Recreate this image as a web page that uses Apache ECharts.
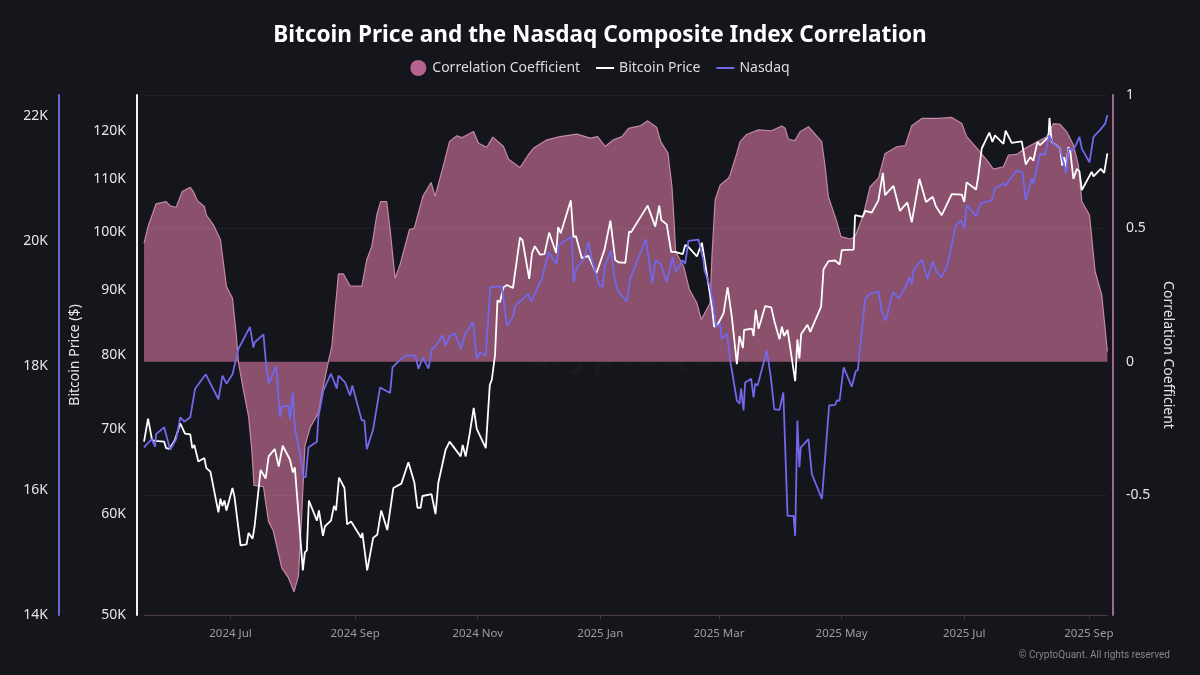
<!DOCTYPE html>
<html>
<head>
<meta charset="utf-8">
<style>html,body{margin:0;padding:0;background:#15151c}#chart{width:1200px;height:675px}</style>
<script src="https://cdn.jsdelivr.net/npm/echarts@6/dist/echarts.min.js"></script>
</head>
<body>
<div id="chart"></div>
<script>
const xTickDays = [43, 105, 166, 227, 286, 347, 408, 470];
const xTickLabels = ['2024 Jul', '2024 Sep', '2024 Nov', '2025 Jan', '2025 Mar', '2025 May', '2025 Jul', '2025 Sep'];
const btcTicks = [50, 60, 70, 80, 90, 100, 110, 120];
const nasdaqTicks = [14, 16, 18, 20, 22];
const corrTicks = [-0.5, 0, 0.5, 1];

const btcDays = [0,2,4,5.5,10,11,12.6,15.4,18,20.4,23,24,25,27,30,31,33,37,38,39,40,41,44,45,48,51,52,54,55,58,60.5,62,65,67,69,72.6,74,75,77,79,80,81,82,86,87,89,90,93,94.5,95.5,97,99.7,101,103,108,108.6,111,114,116,118,121,124,128,131.5,134.5,136,137.6,138.5,143,145,146.4,150,152,157.5,158.5,160,162,164,165.5,170,172,173,174.6,175.8,177,178.8,180.5,183.5,187,188.3,191.6,193,194.4,197,199.2,201.5,205,206,207.3,212.3,213.6,214.8,217.8,221,225,229,232,234.4,236,239.4,241.3,242.3,250.5,254.3,256.3,257.3,260,262.2,264.2,268,269.2,270.4,275,277.5,282.5,283.6,285.3,288.3,290.3,292.4,294.9,296.2,297.9,298.5,302.4,303.2,304.3,305.7,309,312,313.6,316.1,317.3,318.4,320.1,323.9,325,326,326.9,330,331.4,336.8,338,340.5,343.8,346,347.1,353,353.7,357.5,358.7,362,365.3,367.5,368.6,372.8,376,379.7,381.9,385.7,389,392.3,394,396.8,401.8,406.8,408,409.2,413.9,415,416.7,420.5,422,423.3,427.5,428.6,431.6,436.6,438.6,440.8,442.4,444.4,445.7,449.9,450.4,451.5,455.7,456.7,457.7,458.7,459.8,460.7,462.3,464,465.3,466.5,471.4,472.3,475.9,477.6,479.2];
const btcPrice = [68.4,71.3,68.6,68.5,68.4,67.6,67.5,68.6,70.7,69.4,69.3,67.6,68,66,66.4,65.2,64.8,60.2,61.7,60.9,61.5,60.4,62.9,61.9,56.7,56.8,58,57.4,58.7,65,64,66.6,67.5,65.4,67.9,66.2,64.7,65.3,59.6,54.2,56,56.2,61.5,59.3,60.4,57.7,58.7,59.3,60.9,60.4,64.1,62.9,58.9,59.2,57.5,58,54.2,57.5,57.8,60.4,58.3,62.9,63.4,65.9,63.5,60.7,60.7,62,62.2,60,63.5,67.4,68.4,66.6,68,66.6,69.4,72.7,70,67.6,75.8,76.5,80,88.3,88,90.4,90.8,90.3,98.9,98.4,91.8,96.2,97.4,95.9,96,99.8,96.2,100.8,99.7,105.8,99,99.2,95.3,95.7,92.7,96.7,102,95,94.6,94.5,100,99.9,104.8,100.9,104.8,102.1,101.3,96.4,96.4,96,97.6,97.4,95.6,98,87.3,84.2,84.5,86.3,90.4,85.7,78.7,82.8,81,83.7,83.9,82.8,86.8,83.9,87.4,87.2,85,82.3,84.2,82.8,83.7,76.3,82.3,79.5,83.1,84.5,83.4,87.3,93.4,94.8,94.9,94.2,96.7,96.8,103,102.7,103.8,103.5,105.8,111.2,106.8,108.6,103.8,105.4,101.7,110,105.5,106.5,104.6,103,107,106.9,105.5,109.3,107.9,110.6,116.2,119.6,117.6,119,117.2,120,117.4,117.7,112.9,114.4,113.7,117.6,116.9,118.6,122.8,117.6,116.2,112.7,114.4,112.4,116.5,115.8,110,112,111.5,107.8,111.4,110.5,112,111.2,115.2];

const nasdaqDays = [0,3.8,5.5,6,10,13,16,18,20,23,25.4,30.7,37,39,41,44,47,52.7,54.4,55,59.4,60.7,62,65.7,67.7,68.5,71.8,72.6,74,75,77.6,79.3,80.4,81.8,86,86.7,89.2,93,95.9,96.7,100,102.5,103.6,108.3,109.6,110.8,114,117.4,122.4,123.6,127,130,135,136.5,138.7,141.5,143.2,144.8,148.6,149.8,152.3,154.8,157.6,159.7,163.6,165.5,167.2,170,172.2,178,180.5,183.5,184.6,191.2,192.6,197.9,201.2,205.3,206.2,212.8,213.6,215.3,218.6,221.1,222.8,226.4,228,229.4,232.2,234.4,236,240.2,241.8,249.6,252.9,254.3,257,260,262.9,264.5,268,269.2,270.8,275.8,278.3,278.8,281.6,283,284.6,286.6,287.4,290,291.6,294.9,296.2,297,298.2,299,302,303.2,304,305.2,309.8,311.8,313.5,316.1,318,320.1,323.1,323.9,325,326,326.7,330.5,332.2,337.2,340.8,343.8,344.6,346,348,352.1,354,355.1,358.7,361,365.3,367,369,372.5,375.5,379,380.7,381.9,382.7,386.9,389.7,392.3,394.3,396.8,399.6,403.8,406.4,408,409.2,413.9,416.2,421.7,423.3,427.5,428.6,434.1,437.1,438.6,441.6,442.4,445.7,448.2,450.2,452.4,455.7,458.7,459.8,462.3,465.3,466.5,470.3,472.3,475.6,478.1,479.2];
const nasdaqValue = [16.69,16.82,16.7,16.9,17.01,16.65,16.82,17.17,17.1,17.17,17.63,17.86,17.46,17.84,17.71,17.86,18.27,18.62,18.29,18.37,18.5,18.03,17.71,17.99,17.17,17.34,17.36,17.14,17.57,17.01,16.58,16.21,16.21,16.69,16.78,17.17,17.6,17.87,17.63,17.84,17.73,17.52,17.68,17.12,17.12,16.66,16.98,17.65,17.56,17.97,18.08,18.16,18.16,17.95,18.13,17.95,18.27,18.3,18.49,18.32,18.48,18.51,18.27,18.51,18.7,18.11,18.21,18.16,19.26,19.27,18.64,18.78,18.96,19.15,19.03,19.39,19.82,19.63,19.93,20.07,19.34,19.58,19.69,19.98,19.69,19.29,19.26,19.61,19.85,19.34,19.18,19.03,19.39,20.03,19.32,19.69,19.63,19.34,19.74,19.5,19.69,19.63,20,20.02,19.69,19.53,19.26,19.02,18.62,18.67,18.43,18.51,18.08,17.44,17.39,17.63,17.28,17.73,17.79,17.49,17.71,17.68,18.24,17.81,17.3,17.29,17.57,15.59,15.59,15.27,17.12,16.37,16.69,16.82,16.26,15.86,17.36,17.37,17.44,17.44,17.97,17.66,17.91,17.93,19.07,19.15,19.19,18.87,18.72,19.18,19.08,19.27,19.42,19.3,19.53,19.7,19.39,19.67,19.5,19.42,19.61,20.25,20.33,20.2,20.57,20.4,20.6,20.65,20.84,20.92,20.89,21.13,21.09,20.65,21,20.92,21.4,21.38,21.69,21.56,21.48,21.08,21.48,21.45,21.67,21.48,21.26,21.67,21.78,21.88,22.02];

const corrDays = [0,2,6,11,13,16,19,23,24.5,26.5,30,31,34.5,38,41,44,45.8,47,49.4,52,53.6,54.7,59.4,61.9,64.3,68.5,71.8,74.6,76.8,78.4,80,82.6,86.7,89,91.7,93.4,96.7,99.2,102.5,108.3,110.8,113.3,115.8,117.7,120.7,122.4,124.9,127.4,132,134.4,138.7,142.8,144.8,149,152,155.6,158,163.9,166.4,170.5,173.5,178.8,181.3,187,191.2,193.7,200.4,207,215.3,222,225.6,229.4,233.5,237.7,241,246.8,250.5,255,257,260.6,262.6,263.7,264.4,268.4,271.3,275,277.2,281.6,282.5,284.1,286.6,290.7,291.5,294.9,296.5,299.8,305.6,312.2,317.2,318.9,320.5,323.8,326.3,330.5,337.1,338.8,340.4,344.6,346.7,351.2,353.7,357.8,361.2,365.3,368.6,374.4,378.6,381.9,386.9,395.1,401.8,406.8,409.2,415,419.2,422.5,427.5,430,434.1,438.3,449,452.4,455.7,459,462.3,464.8,466.5,470.3,473.1,476.4,479.2];
const corrValue = [0.444,0.507,0.592,0.6,0.584,0.579,0.638,0.654,0.638,0.604,0.582,0.55,0.513,0.457,0.282,0.238,0.107,-0.005,-0.105,-0.205,-0.33,-0.464,-0.469,-0.598,-0.635,-0.773,-0.81,-0.863,-0.804,-0.579,-0.317,-0.248,-0.192,-0.099,0,0.057,0.329,0.329,0.284,0.282,0.382,0.432,0.55,0.6,0.6,0.494,0.313,0.365,0.495,0.5,0.62,0.672,0.62,0.738,0.826,0.847,0.84,0.863,0.819,0.804,0.842,0.807,0.759,0.728,0.776,0.8,0.832,0.844,0.853,0.838,0.844,0.807,0.832,0.844,0.875,0.884,0.903,0.879,0.825,0.782,0.657,0.52,0.414,0.357,0.27,0.22,0.158,0.22,0.395,0.607,0.663,0.688,0.7,0.782,0.825,0.852,0.869,0.866,0.884,0.875,0.834,0.829,0.862,0.881,0.825,0.731,0.619,0.525,0.469,0.46,0.469,0.55,0.656,0.688,0.78,0.806,0.81,0.885,0.912,0.912,0.916,0.893,0.844,0.794,0.756,0.722,0.731,0.775,0.777,0.8,0.843,0.893,0.89,0.862,0.812,0.737,0.6,0.55,0.338,0.25,0.038];

const pairs = (days, vals) => days.map((d, i) => [d, vals[i]]);
const CORR_MIN = -0.95;
const font = '"Noto Sans", sans-serif';
const legendDash = 'path://M0,0 L18,0 L18,2 L0,2 Z';

const chart = echarts.init(document.getElementById('chart'), null, { renderer: 'canvas' });
const lastDay = corrDays[corrDays.length - 1];
// faint rows stop where the data stops, the bottom one is a bit stronger
const gridRows = [1, 0.5, -0.5].map((v) => [{ xAxis: 0, yAxis: v }, { xAxis: lastDay, yAxis: v }]);
gridRows.push([{ xAxis: 0, yAxis: CORR_MIN, lineStyle: { color: '#4a3c4a' } }, { xAxis: lastDay, yAxis: CORR_MIN }]);

chart.setOption({
    animation: false,
    backgroundColor: '#15151c',
    title: {
        text: 'Bitcoin Price and the Nasdaq Composite Index Correlation',
        left: 'center', top: 19,
        textStyle: { color: '#ffffff', fontFamily: font, fontWeight: 'bold', fontSize: 22.6 }
    },
    legend: {
        top: 55, left: 'center', itemWidth: 18, itemHeight: 16, itemGap: 16,
        textStyle: { color: '#dcdce0', fontFamily: font, fontSize: 14 },
        data: [
            { name: 'Correlation Coefficient', icon: 'circle', itemStyle: { color: '#b5648f' } },
            { name: 'Bitcoin Price', icon: legendDash },
            { name: 'Nasdaq', icon: legendDash }
        ]
    },
    grid: { left: 137, right: 87, top: 95, bottom: 60 },
    xAxis: {
        type: 'value',
        min: -3.5, max: 482,
        axisLine: { show: false, onZero: false },
        axisTick: { show: true, customValues: xTickDays, length: 4, lineStyle: { color: '#3c3640' } },
        splitLine: { show: false },
        axisLabel: {
            customValues: xTickDays,
            margin: 13,
            color: '#9c9ca2', fontFamily: font, fontSize: 11.5,
            formatter: (v) => xTickLabels[xTickDays.indexOf(v)]
        }
    },
    yAxis: [
        {
            type: 'value', position: 'left', offset: 78,
            min: 14, max: 22.34,
            axisLine: { show: true, onZero: false, lineStyle: { color: '#6d64dc', width: 2 } },
            axisTick: { show: false }, splitLine: { show: false },
            axisLabel: {
                customValues: nasdaqTicks, margin: 11, color: '#e6e6ea', fontFamily: font, fontSize: 14,
                formatter: (v) => v + 'K'
            }
        },
        {
            type: 'log', position: 'left',
            min: 50, max: 128,
            name: 'Bitcoin Price ($)', nameLocation: 'middle', nameGap: 52,
            nameTextStyle: { color: '#e6e6ea', fontFamily: font, fontSize: 14 },
            axisLine: { show: true, onZero: false, lineStyle: { color: '#f0f0f0', width: 2 } },
            axisTick: { show: false }, splitLine: { show: false },
            axisLabel: {
                customValues: btcTicks, margin: 11, color: '#e6e6ea', fontFamily: font, fontSize: 14,
                formatter: (v) => v + 'K'
            }
        },
        {
            type: 'value', position: 'right',
            min: CORR_MIN, max: 1,
            name: 'Correlation Coefficient', nameLocation: 'middle', nameGap: 43, nameRotate: -90,
            nameTextStyle: { color: '#e6e6ea', fontFamily: font, fontSize: 14 },
            axisLine: { show: true, onZero: false, lineStyle: { color: '#a5688a', width: 2 } },
            axisTick: { show: false }, splitLine: { show: false },
            axisLabel: { customValues: corrTicks, margin: 13, color: '#e6e6ea', fontFamily: font, fontSize: 14 }
        }
    ],
    series: [
        {
            name: 'Correlation Coefficient', type: 'line', yAxisIndex: 2, z: 2,
            symbol: 'none', itemStyle: { color: '#b5648f' },
            lineStyle: { color: '#c28aa6', width: 1.2 },
            areaStyle: { color: '#8a506c', opacity: 1 },
            data: pairs(corrDays, corrValue),
            markLine: {
                silent: true, symbol: 'none', label: { show: false }, animation: false,
                lineStyle: { color: 'rgba(255,255,255,0.05)', width: 1, type: 'solid' },
                data: gridRows
            }
        },
        {
            name: 'Bitcoin Price', type: 'line', yAxisIndex: 1, z: 3,
            symbol: 'none', itemStyle: { color: '#ffffff' },
            lineStyle: { color: '#ffffff', width: 1.8 },
            data: pairs(btcDays, btcPrice)
        },
        {
            name: 'Nasdaq', type: 'line', yAxisIndex: 0, z: 4,
            symbol: 'none', itemStyle: { color: '#7168ea' },
            lineStyle: { color: '#7168ea', width: 1.8 },
            data: pairs(nasdaqDays, nasdaqValue)
        }
    ],
    graphic: [
        {
            type: 'text', right: 30, top: 650, silent: true,
            style: { text: '© CryptoQuant. All rights reserved', fill: '#85858b', font: '10px Roboto, ' + font }
        },
        {
            type: 'text', left: 525, top: 335, silent: true,
            style: { text: 'CryptoQuant', fill: 'rgba(255,255,255,0.02)', font: 'bold 40px ' + font }
        }
    ]
});
</script>
</body>
</html>
